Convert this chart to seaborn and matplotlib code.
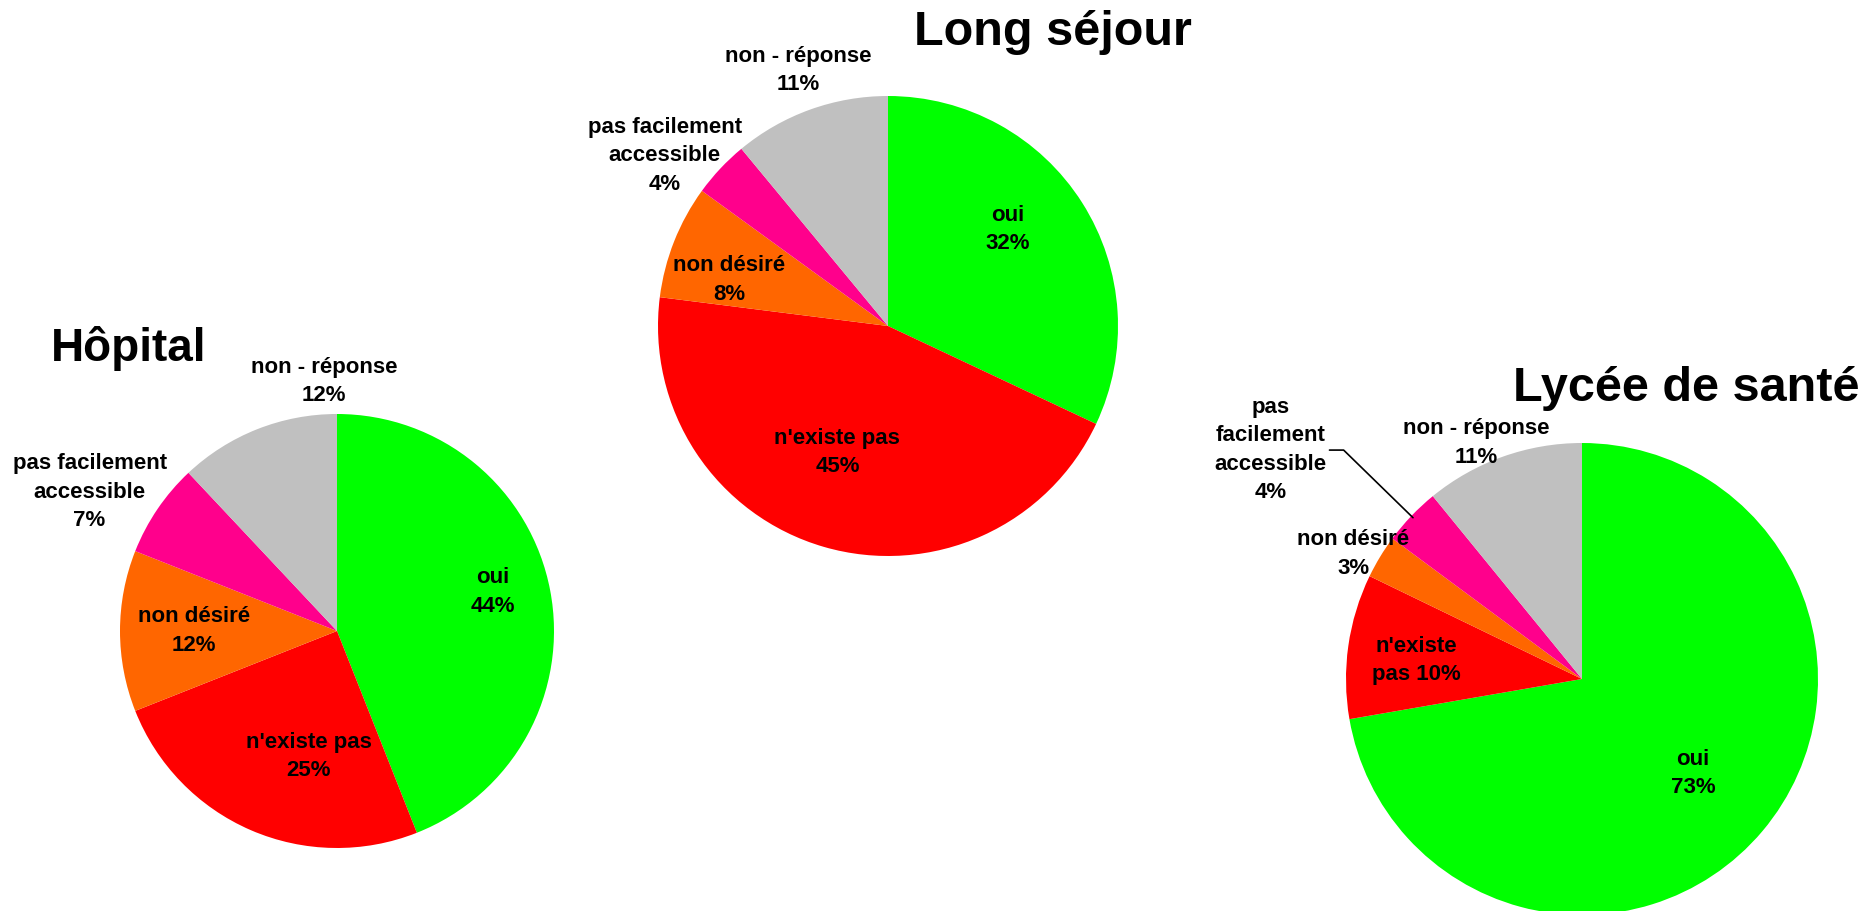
import matplotlib
matplotlib.use("Agg")
import matplotlib.pyplot as plt
import seaborn as sns
import numpy as np

sns.set_theme(style="white")
plt.rcParams["font.family"] = ["Liberation Sans", "DejaVu Sans"]

# Answer categories (same order for every group, drawn clockwise from 12 o'clock)
categories = ["oui", "n'existe pas", "non désiré", "pas facilement accessible", "non - réponse"]
colors = ["#00FF00", "#FF0000", "#FF6600", "#FF008C", "#C0C0C0"]

# Percentages per group
hopital = [44, 25, 12, 7, 12]
long_sejour = [32, 45, 8, 4, 11]
lycee = [73, 10, 3, 4, 11]

# Label text per group (line breaks as printed)
hopital_labels = ["oui", "n'existe pas", "non désiré", "pas facilement\naccessible", "non - réponse"]
long_sejour_labels = ["oui", "n'existe pas", "non désiré", "pas facilement\naccessible", "non - réponse"]
lycee_labels = ["oui", "n'existe\npas", "non désiré", "pas\nfacilement\naccessible", "non - réponse"]

W, H = 1861, 911
fig = plt.figure(figsize=(W / 100, H / 100), dpi=100)
fig.patch.set_facecolor("white")

# Layout: pie centre (px from top-left), radius (px), label positions in radius units
groups = [
    dict(title="Hôpital", values=hopital, labels=hopital_labels,
         center=(337, 631), radius=217, title_xy=(51, 361), title_size=33,
         label_pos=[(0.72, 0.18), (-0.13, -0.58), (-0.66, 0.0), (-1.14, 0.64), (-0.06, 1.15)],
         same_line=[False] * 5),
    dict(title="Long séjour", values=long_sejour, labels=long_sejour_labels,
         center=(888, 326), radius=230, title_xy=(914, 45), title_size=35,
         label_pos=[(0.52, 0.42), (-0.22, -0.55), (-0.69, 0.20), (-0.97, 0.74), (-0.39, 1.11)],
         same_line=[False] * 5),
    dict(title="Lycée de santé", values=lycee, labels=lycee_labels,
         center=(1582, 679), radius=236, title_xy=(1513, 401), title_size=35,
         label_pos=[(0.47, -0.40), (-0.70, 0.08), (-0.97, 0.53), (-1.32, 0.97), (-0.45, 1.00)],
         same_line=[False, True, False, False, False]),
]

label_font = dict(fontsize=16, fontweight="bold", color="black", ha="center", va="center",
                  linespacing=1.45)

for g in groups:
    cx, cy = g["center"]
    r = g["radius"]
    ax = fig.add_axes([(cx - r) / W, (H - cy - r) / H, 2 * r / W, 2 * r / H])
    ax.pie(g["values"], colors=colors, startangle=90, counterclock=False,
           radius=1.0, normalize=True, wedgeprops=dict(linewidth=0))
    ax.set_xlim(-1, 1)
    ax.set_ylim(-1, 1)
    ax.set_aspect("equal")
    ax.axis("off")
    for val, lab, (lx, ly), same in zip(g["values"], g["labels"], g["label_pos"], g["same_line"]):
        txt = f"{lab} {val}%" if same else f"{lab}\n{val}%"
        ax.text(lx, ly, txt, clip_on=False, **label_font)
    tx, ty = g["title_xy"]
    fig.text(tx / W, 1 - ty / H, g["title"], fontsize=g["title_size"], fontweight="bold",
             ha="left", va="baseline", color="black")

# Leader line for the small "pas facilement accessible" slice of the last pie
vals = np.array(lycee, dtype=float)
cum = np.cumsum(vals) / vals.sum()
mid = (cum[2] + cum[3]) / 2 * 2 * np.pi
end = (np.sin(mid) * 0.99, np.cos(mid) * 0.99)
ax3 = fig.axes[2]
ax3.plot([-1.07, -1.01, end[0]], [0.97, 0.97, end[1]], color="black", lw=1.2,
         clip_on=False)

fig.savefig("out.png", dpi=100, facecolor="white")
